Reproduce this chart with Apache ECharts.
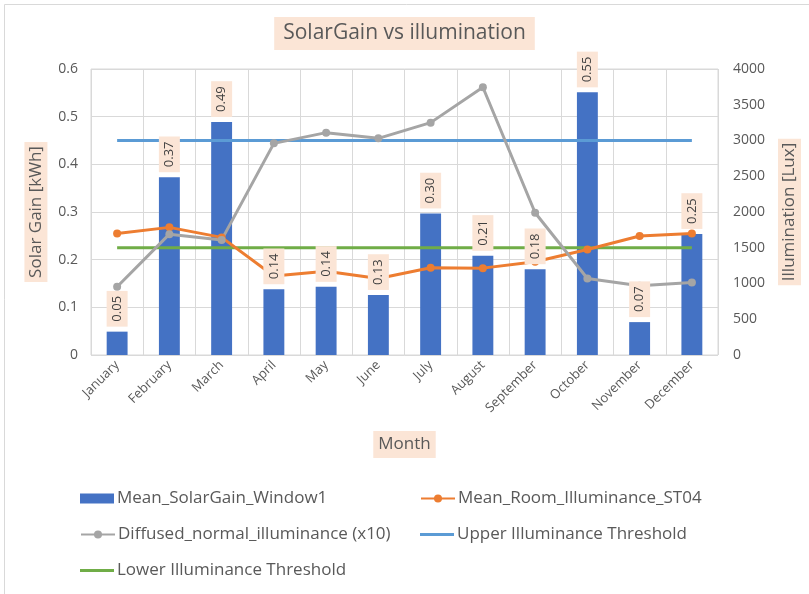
<!DOCTYPE html>
<html>
<head>
<meta charset="utf-8">
<script src="https://cdn.jsdelivr.net/npm/echarts@6/dist/echarts.min.js"></script>
<style>
  html, body { margin: 0; padding: 0; background: #fff; }
  #chart { width: 809px; height: 594px; }
</style>
</head>
<body>
<div id="chart"></div>
<script>
// 数据：从图中读取
const months = ['January', 'February', 'March', 'April', 'May', 'June',
  'July', 'August', 'September', 'October', 'November', 'December'];
const solarGain = [0.049, 0.373, 0.489, 0.138, 0.143, 0.126, 0.297, 0.208, 0.18, 0.551, 0.069, 0.254];
const roomIlluminance = [1700, 1785, 1645, 1105, 1170, 1070, 1220, 1215, 1305, 1475, 1665, 1700];
const diffusedIlluminance = [955, 1690, 1610, 2960, 3110, 3030, 3250, 3745, 1990, 1070, 970, 1015];
const upperThreshold = [3000, 3000, 3000, 3000, 3000, 3000, 3000, 3000, 3000, 3000, 3000, 3000];
const lowerThreshold = [1500, 1500, 1500, 1500, 1500, 1500, 1500, 1500, 1500, 1500, 1500, 1500];
const leftTicks = ['0', '0.1', '0.2', '0.3', '0.4', '0.5', '0.6'];

const FONT = '"Open Sans", sans-serif';
const TXT = '#595959';
const PEACH = '#fbe5d6';

const chart = echarts.init(document.getElementById('chart'), null, { renderer: 'canvas' });

function legendAt(name, left, top, icon, h) {
  const l = {
    data: [name],
    left: left,
    top: top,
    itemWidth: 34,
    itemHeight: h || 10,
    itemGap: 0,
    textStyle: { fontFamily: FONT, fontSize: 17, color: TXT, padding: [0, 0, 0, -2] },
  };
  if (icon) l.icon = icon;
  return l;
}

chart.setOption({
  animation: false,
  textStyle: { fontFamily: FONT },
  graphic: [
    { type: 'line', shape: { x1: 4.5, y1: 4.5, x2: 809, y2: 4.5 }, style: { stroke: '#d9d9d9', lineWidth: 1 } },
    { type: 'line', shape: { x1: 4.5, y1: 4.5, x2: 4.5, y2: 594 }, style: { stroke: '#d9d9d9', lineWidth: 1 } },
  ],
  title: {
    text: 'SolarGain vs illumination',
    left: 'center',
    top: 17,
    backgroundColor: PEACH,
    padding: [6, 9, 6, 9],
    textStyle: { fontFamily: FONT, fontSize: 21, fontWeight: 'normal', color: TXT },
  },
  legend: [
    legendAt('Mean_SolarGain_Window1', 75, 485, 'rect'),
    legendAt('Mean_Room_Illuminance_ST04', 415, 485),
    legendAt('Diffused_normal_illuminance (x10)', 75, 521),
    legendAt('Upper Illuminance Threshold', 415, 521, 'rect', 3),
    legendAt('Lower Illuminance Threshold', 75, 557, 'rect', 3),
  ],
  grid: {
    left: 91, right: 89, top: 69, bottom: 239,
    show: true, borderColor: '#d9d9d9', borderWidth: 1,
  },
  xAxis: {
    type: 'category',
    data: months,
    boundaryGap: true,
    name: 'Month',
    nameLocation: 'middle',
    nameGap: 76,
    nameTextStyle: { fontFamily: FONT, fontSize: 17, color: TXT, backgroundColor: PEACH, padding: [5, 5, 5, 5] },
    axisLine: { show: false },
    axisTick: { show: false },
    splitLine: { show: true, lineStyle: { color: '#d9d9d9' } },
    axisLabel: { rotate: 45, interval: 0, fontSize: 13, color: TXT, margin: 8 },
  },
  yAxis: [
    {
      type: 'value',
      min: 0, max: 0.6, interval: 0.1,
      name: 'Solar Gain [kWh]',
      nameLocation: 'middle',
      nameRotate: 90,
      nameGap: 42,
      nameTextStyle: { fontFamily: FONT, fontSize: 17, color: TXT, backgroundColor: PEACH, padding: [3, 4, 3, 4] },
      axisLine: { show: false },
      axisTick: { show: false },
      splitLine: { show: true, lineStyle: { color: '#d9d9d9' } },
      axisLabel: { fontSize: 14, color: TXT, margin: 13, formatter: v => leftTicks[Math.round(v * 10)] },
    },
    {
      type: 'value',
      min: 0, max: 4000, interval: 500,
      name: 'Illumination [Lux]',
      nameLocation: 'middle',
      nameRotate: 90,
      nameGap: 60,
      nameTextStyle: { fontFamily: FONT, fontSize: 17, color: TXT, backgroundColor: PEACH, padding: [3, 4, 3, 4] },
      axisLine: { show: false },
      axisTick: { show: false },
      splitLine: { show: false },
      axisLabel: { fontSize: 14, color: TXT, margin: 15, formatter: v => String(v) },
    },
  ],
  series: [
    {
      name: 'Mean_SolarGain_Window1',
      type: 'bar',
      data: solarGain,
      barWidth: '40%',
      itemStyle: { color: '#4472c4' },
      z: 1,
    },
    {
      // 仅承载数据标签，使其绘制在折线之上
      name: 'labels',
      type: 'bar',
      data: solarGain,
      barWidth: '40%',
      barGap: '-100%',
      itemStyle: { color: 'rgba(0,0,0,0)' },
      silent: true,
      z: 10,
      label: {
        show: true,
        position: 'top',
        rotate: 90,
        align: 'left',
        verticalAlign: 'middle',
        distance: 5,
        fontSize: 13,
        color: '#404040',
        backgroundColor: PEACH,
        padding: [4, 5, 4, 5],
        formatter: p => p.value.toFixed(2),
      },
    },
    {
      name: 'Mean_Room_Illuminance_ST04',
      type: 'line',
      yAxisIndex: 1,
      data: roomIlluminance,
      symbol: 'circle',
      symbolSize: 8,
      lineStyle: { color: '#ed7d31', width: 3 },
      itemStyle: { color: '#ed7d31' },
      z: 3,
    },
    {
      name: 'Diffused_normal_illuminance (x10)',
      type: 'line',
      yAxisIndex: 1,
      data: diffusedIlluminance,
      symbol: 'circle',
      symbolSize: 8,
      lineStyle: { color: '#a5a5a5', width: 3 },
      itemStyle: { color: '#a5a5a5' },
      z: 3,
    },
    {
      name: 'Upper Illuminance Threshold',
      type: 'line',
      yAxisIndex: 1,
      data: upperThreshold,
      symbol: 'none',
      lineStyle: { color: '#5b9bd5', width: 3 },
      itemStyle: { color: '#5b9bd5' },
      z: 2,
    },
    {
      name: 'Lower Illuminance Threshold',
      type: 'line',
      yAxisIndex: 1,
      data: lowerThreshold,
      symbol: 'none',
      lineStyle: { color: '#70ad47', width: 3 },
      itemStyle: { color: '#70ad47' },
      z: 2,
    },
  ],
});
</script>
</body>
</html>
